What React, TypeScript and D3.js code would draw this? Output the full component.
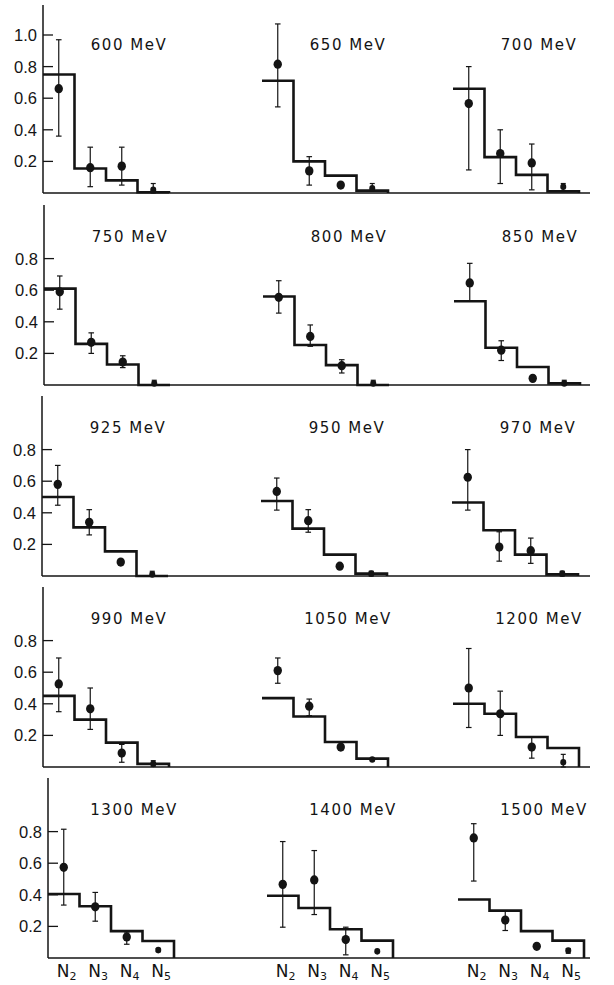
import React from "react";
import * as d3 from "d3";

// Beam energies, one per panel (read row by row, left to right)
const energies = [
  "600 MeV", "650 MeV", "700 MeV",
  "750 MeV", "800 MeV", "850 MeV",
  "925 MeV", "950 MeV", "970 MeV",
  "990 MeV", "1050 MeV", "1200 MeV",
  "1300 MeV", "1400 MeV", "1500 MeV",
];

// Prong multiplicity classes on the x axis
const classes = ["N2", "N3", "N4", "N5"];

// Calculated distribution (histogram) per panel: N2, N3, N4, N5
const predicted = [
  [0.75, 0.155, 0.08, 0.005],
  [0.71, 0.2, 0.11, 0.015],
  [0.66, 0.227, 0.115, 0.01],
  [0.61, 0.26, 0.13, 0.0],
  [0.56, 0.253, 0.126, 0.0],
  [0.53, 0.236, 0.114, 0.01],
  [0.5, 0.308, 0.156, 0.0],
  [0.475, 0.3, 0.135, 0.015],
  [0.465, 0.29, 0.135, 0.01],
  [0.45, 0.3, 0.154, 0.02],
  [0.436, 0.32, 0.158, 0.053],
  [0.4, 0.337, 0.19, 0.12],
  [0.405, 0.328, 0.17, 0.108],
  [0.394, 0.316, 0.182, 0.11],
  [0.37, 0.3, 0.17, 0.11],
];

// Measured fractions per panel
const measured = [
  [0.66, 0.16, 0.17, 0.02],
  [0.815, 0.14, 0.05, 0.03],
  [0.566, 0.25, 0.19, 0.04],
  [0.59, 0.27, 0.145, 0.01],
  [0.555, 0.307, 0.122, 0.01],
  [0.646, 0.22, 0.042, 0.01],
  [0.58, 0.34, 0.088, 0.01],
  [0.535, 0.35, 0.062, 0.015],
  [0.625, 0.183, 0.16, 0.015],
  [0.526, 0.368, 0.088, 0.02],
  [0.61, 0.385, 0.126, 0.047],
  [0.5, 0.337, 0.126, 0.03],
  [0.574, 0.324, 0.133, 0.05],
  [0.466, 0.494, 0.117, 0.042],
  [0.76, 0.24, 0.074, 0.047],
];

// Lower ends of the error bars
const errorLow = [
  [0.36, 0.04, 0.05, 0.0],
  [0.545, 0.05, 0.04, 0.01],
  [0.146, 0.06, 0.02, 0.01],
  [0.48, 0.2, 0.11, 0.0],
  [0.455, 0.245, 0.076, 0.0],
  [0.53, 0.155, 0.042, 0.0],
  [0.448, 0.26, 0.088, 0.0],
  [0.417, 0.277, 0.062, 0.0],
  [0.417, 0.094, 0.08, 0.0],
  [0.35, 0.238, 0.03, 0.005],
  [0.53, 0.325, 0.11, 0.04],
  [0.25, 0.2, 0.056, 0.0],
  [0.335, 0.233, 0.087, 0.04],
  [0.195, 0.275, 0.02, 0.042],
  [0.487, 0.174, 0.074, 0.03],
];

// Upper ends of the error bars
const errorHigh = [
  [0.97, 0.29, 0.29, 0.06],
  [1.07, 0.23, 0.06, 0.06],
  [0.8, 0.4, 0.31, 0.06],
  [0.69, 0.33, 0.185, 0.03],
  [0.66, 0.38, 0.16, 0.03],
  [0.77, 0.28, 0.042, 0.03],
  [0.7, 0.42, 0.088, 0.03],
  [0.62, 0.42, 0.062, 0.03],
  [0.8, 0.28, 0.24, 0.03],
  [0.69, 0.5, 0.143, 0.04],
  [0.69, 0.43, 0.14, 0.055],
  [0.75, 0.48, 0.19, 0.08],
  [0.815, 0.415, 0.165, 0.06],
  [0.737, 0.68, 0.195, 0.042],
  [0.85, 0.297, 0.074, 0.06],
];

// Y tick values: the top row also carries 1.0
const ticksTop = [0.2, 0.4, 0.6, 0.8, 1.0];
const ticksRow = [0.2, 0.4, 0.6, 0.8];

// Layout
const W = 614;
const H = 985;
const rowBase = [193, 385, 576, 767, 958];
const rowAxisX = [43, 44, 42, 43, 48];
const rowAxisHeight = [188, 180, 180, 180, 180];
const colOffset = [0, 219, 410];
const binW = 31.5;
const unitPx = 158;
const lineEnd = 590;
const ink = "#141414";

function Panel({ idx, row, col }: { idx: number; row: number; col: number }) {
  const x0 = rowAxisX[row] + colOffset[col];
  const base = rowBase[row];
  const x = d3.scaleBand<string>().domain(classes).range([x0, x0 + binW * classes.length]).padding(0);
  const y = d3.scaleLinear().domain([0, 1]).range([base, base - unitPx]);

  const hv = predicted[idx];
  const pts: [number, number][] = classes.map((c, i) => [x(c)!, y(hv[i])]);
  pts.push([x0 + binW * classes.length, y(hv[hv.length - 1])]);
  pts.push([x0 + binW * classes.length, y(0)]);
  const step = d3.line().curve(d3.curveStepAfter)(pts) || "";

  const cx = (c: string) => x(c)! + x.bandwidth() / 2;

  return (
    <g>
      <text
        x={x0 + 86}
        y={base - 143}
        textAnchor="middle"
        fontFamily="DejaVu Sans, sans-serif"
        fontSize={15}
        letterSpacing={1.5}
        fill={ink}
      >
        {energies[idx]}
      </text>
      <path d={step} fill="none" stroke={ink} strokeWidth={2.6} strokeLinejoin="miter" />
      {classes.map((c, i) => {
        const v = measured[idx][i];
        const lo = errorLow[idx][i];
        const hi = errorHigh[idx][i];
        const small = i === classes.length - 1;
        const r = small ? 3 : 4.2;
        const cap = small ? 2.5 : 2.8;
        return (
          <g key={c}>
            {hi - lo > 0.001 && (
              <g stroke={ink} strokeWidth={1.2}>
                <line x1={cx(c)} x2={cx(c)} y1={y(hi)} y2={y(lo)} />
                <line x1={cx(c) - cap} x2={cx(c) + cap} y1={y(hi)} y2={y(hi)} />
                <line x1={cx(c) - cap} x2={cx(c) + cap} y1={y(lo)} y2={y(lo)} />
              </g>
            )}
            <ellipse cx={cx(c)} cy={y(v)} rx={r} ry={r * 1.1} fill={ink} />
          </g>
        );
      })}
    </g>
  );
}

function Row({ row }: { row: number }) {
  const ax = rowAxisX[row];
  const base = rowBase[row];
  const y = d3.scaleLinear().domain([0, 1]).range([base, base - unitPx]);
  const ticks = row === 0 ? ticksTop : ticksRow;
  return (
    <g>
      <line x1={ax} x2={ax} y1={base} y2={base - rowAxisHeight[row]} stroke={ink} strokeWidth={1.5} />
      <line x1={ax} x2={lineEnd} y1={base} y2={base} stroke={ink} strokeWidth={1.6} />
      {ticks.map((t) => (
        <g key={t}>
          <line x1={ax} x2={ax + 10} y1={y(t)} y2={y(t)} stroke={ink} strokeWidth={1.3} />
          <text
            x={ax - 6}
            y={y(t)}
            dy="0.36em"
            textAnchor="end"
            fontFamily="Liberation Sans, Arial, sans-serif"
            fontSize={16.5}
            fill={ink}
          >
            {d3.format(".1f")(t)}
          </text>
        </g>
      ))}
      {colOffset.map((_, col) => (
        <Panel key={col} idx={row * 3 + col} row={row} col={col} />
      ))}
    </g>
  );
}

function BottomLabels() {
  const row = rowBase.length - 1;
  return (
    <g>
      {colOffset.map((off, col) => {
        const x0 = rowAxisX[row] + off;
        const x = d3.scaleBand<string>().domain(classes).range([x0, x0 + binW * classes.length]);
        return classes.map((c) => (
          <text
            key={`${col}-${c}`}
            x={x(c)! + x.bandwidth() / 2 - 7}
            y={rowBase[row] + 19}
            fontFamily="DejaVu Sans, sans-serif"
            fontSize={17}
            fill={ink}
          >
            {c[0]}
            <tspan fontSize={11} dy={3}>
              {c.slice(1)}
            </tspan>
          </text>
        ));
      })}
    </g>
  );
}

export default function App() {
  return (
    <svg
      width={W}
      height={H}
      viewBox={`0 0 ${W} ${H}`}
      style={{ position: "absolute", left: 0, top: 0, background: "#fff" }}
    >
      <rect width={W} height={H} fill="#fff" />
      {rowBase.map((_, row) => (
        <Row key={row} row={row} />
      ))}
      <BottomLabels />
    </svg>
  );
}
